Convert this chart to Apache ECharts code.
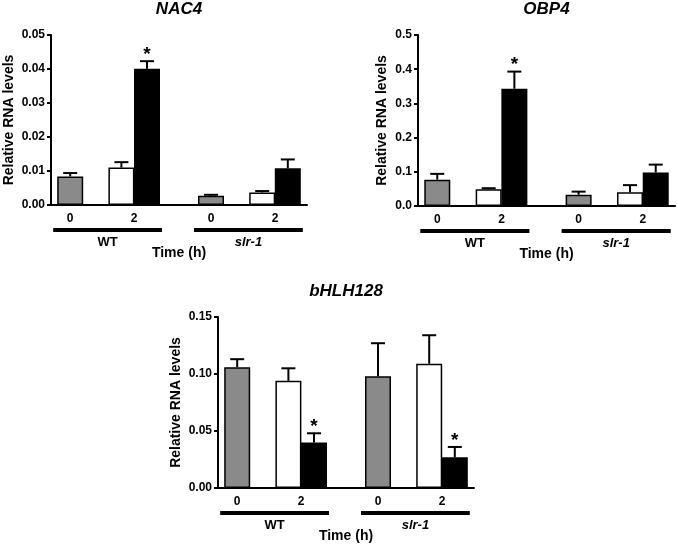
<!DOCTYPE html>
<html>
<head>
<meta charset="utf-8">
<script src="https://cdn.jsdelivr.net/npm/echarts@6/dist/echarts.min.js"></script>
<style>
	html, body { margin: 0; padding: 0; background: #fff; }
	#report_chart { width: 677px; height: 545px; }
</style>
</head>
<body>
<div id="report_chart"></div>
<script>
// order of bars: WT 0h, WT 2h control, WT 2h treated, slr-1 0h, slr-1 2h control, slr-1 2h treated
var genes = ['NAC4', 'OBP4', 'bHLH128'];
var genotypes = ['WT', 'slr-1'];
var timeLabels = ['0', '2', '0', '2'];

var nac4Mean = [0.0084, 0.0110, 0.0401, 0.0027, 0.0037, 0.0108];
var nac4Err = [0.0010, 0.0016, 0.0022, 0.0003, 0.0004, 0.0026];
var nac4Sig = [0, 0, 1, 0, 0, 0];

var obp4Mean = [0.077, 0.049, 0.343, 0.033, 0.040, 0.098];
var obp4Err = [0.017, 0.003, 0.050, 0.009, 0.021, 0.023];
var obp4Sig = [0, 0, 1, 0, 0, 0];

var bhlhMean = [0.106, 0.094, 0.040, 0.098, 0.109, 0.027];
var bhlhErr = [0.007, 0.011, 0.008, 0.029, 0.025, 0.009];
var bhlhSig = [0, 0, 1, 0, 0, 1];

var yMax = [0.05, 0.5, 0.15];
var yStep = [0.01, 0.1, 0.05];
var yDecimals = [2, 1, 2];

function initChart() {
	var font = '"Liberation Sans", Arial, Helvetica, sans-serif';
	var barColors = ['#8a8a8a', '#ffffff', '#000000'];
	// slot layout of the category axis (bars sit on some slots, the rest is spacing)
	var slotCount = 20;
	var barSlots = [1, 5, 7, 12, 16, 18];
	var labelSlots = [1, 6, 12, 17];
	var grids = [
		{ left: 51, top: 35, width: 256, height: 170 },
		{ left: 418, top: 35, width: 257, height: 171 },
		{ left: 218, top: 317, width: 256, height: 171 }
	];
	var means = [nac4Mean, obp4Mean, bhlhMean];
	var errs = [nac4Err, obp4Err, bhlhErr];
	var sigs = [nac4Sig, obp4Sig, bhlhSig];
	var nameGaps = [35, 29, 35];

	var cats = [];
	for (var i = 0; i < slotCount; i++) cats.push('');
	labelSlots.forEach(function (s, k) { cats[s] = timeLabels[k]; });

	function renderErr(params, api) {
		var x = api.value(0), m = api.value(1), e = api.value(2);
		var base = api.coord([x, m]);
		var top = api.coord([x, m + e]);
		var half = 7;
		var st = { stroke: '#000', lineWidth: 2 };
		var children = [
			{ type: 'line', shape: { x1: base[0], y1: base[1], x2: top[0], y2: top[1] }, style: st },
			{ type: 'line', shape: { x1: top[0] - half, y1: top[1], x2: top[0] + half, y2: top[1] }, style: st }
		];
		if (api.value(3)) {
			children.push({
				type: 'text',
				style: { text: '*', x: top[0], y: top[1] + 3, align: 'center', verticalAlign: 'bottom',
					font: 'bold 19px ' + font, fill: '#000' }
			});
		}
		return { type: 'group', children: children };
	}

	var xAxes = [], yAxes = [], series = [];
	for (var p = 0; p < 3; p++) {
		xAxes.push({
			type: 'category',
			gridIndex: p,
			data: cats,
			boundaryGap: true,
			axisLine: { lineStyle: { color: '#000', width: 2 } },
			axisTick: { show: false },
			axisLabel: { interval: 0, color: '#000', fontWeight: 'bold', fontSize: 12, fontFamily: font, margin: 8 },
			name: 'Time (h)',
			nameLocation: 'middle',
			nameGap: 41,
			nameTextStyle: { color: '#000', fontWeight: 'bold', fontSize: 14, fontFamily: font }
		});
		(function (d) {
			yAxes.push({
				type: 'value',
				gridIndex: p,
				min: 0,
				max: yMax[p],
				interval: yStep[p],
				splitLine: { show: false },
				axisLine: { show: true, lineStyle: { color: '#000', width: 2 } },
				axisTick: { show: true, length: 4, lineStyle: { color: '#000', width: 2 } },
				axisLabel: {
					color: '#000', fontWeight: 'bold', fontSize: 12, fontFamily: font, margin: 6,
					formatter: function (v) { return v.toFixed(d); }
				},
				name: 'Relative RNA levels',
				nameLocation: 'middle',
				nameRotate: 90,
				nameGap: nameGaps[p],
				nameTextStyle: { color: '#000', fontWeight: 'bold', fontSize: 14, fontFamily: font }
			});
		})(yDecimals[p]);

		var barData = [], errData = [];
		for (var i = 0; i < slotCount; i++) barData.push('-');
		barSlots.forEach(function (s, k) {
			barData[s] = { value: means[p][k], itemStyle: { color: barColors[k % 3] } };
			errData.push([s, means[p][k], errs[p][k], sigs[p][k]]);
		});
		series.push({
			type: 'bar',
			xAxisIndex: p,
			yAxisIndex: p,
			barWidth: 26,
			data: barData,
			itemStyle: { borderColor: '#000', borderWidth: 1.5 },
			animation: false
		});
		series.push({
			type: 'custom',
			xAxisIndex: p,
			yAxisIndex: p,
			renderItem: renderErr,
			encode: { x: 0, y: 1 },
			data: errData,
			z: 3,
			animation: false
		});
	}

	var myChart = echarts.init(document.getElementById('report_chart'));
	myChart.setOption({
		animation: false,
		grid: grids,
		xAxis: xAxes,
		yAxis: yAxes,
		series: series
	});

	// gene titles and genotype bars under each panel
	var graphics = [];
	for (var p = 0; p < 3; p++) {
		var g = grids[p];
		graphics.push({
			type: 'text',
			x: g.left + g.width / 2,
			y: g.top - 26,
			style: { text: genes[p], align: 'center', verticalAlign: 'middle',
				font: 'italic bold 17px ' + font, fill: '#000' }
		});
		var axisY = g.top + g.height;
		for (var k = 0; k < 2; k++) {
			var x0 = myChart.convertToPixel({ gridIndex: p }, [barSlots[k * 3], 0])[0] - 17;
			var x1 = myChart.convertToPixel({ gridIndex: p }, [barSlots[k * 3 + 2], 0])[0] + 15;
			graphics.push({
				type: 'rect',
				shape: { x: x0, y: axisY + 23, width: x1 - x0, height: 4 },
				style: { fill: '#000' }
			});
			graphics.push({
				type: 'text',
				x: (x0 + x1) / 2,
				y: axisY + 37,
				style: { text: genotypes[k], align: 'center', verticalAlign: 'middle',
					font: (k === 1 ? 'italic ' : '') + 'bold 13px ' + font, fill: '#000' }
			});
		}
	}
	myChart.setOption({ graphic: graphics });
	window.myChart = myChart;
}
initChart();
</script>
</body>
</html>
